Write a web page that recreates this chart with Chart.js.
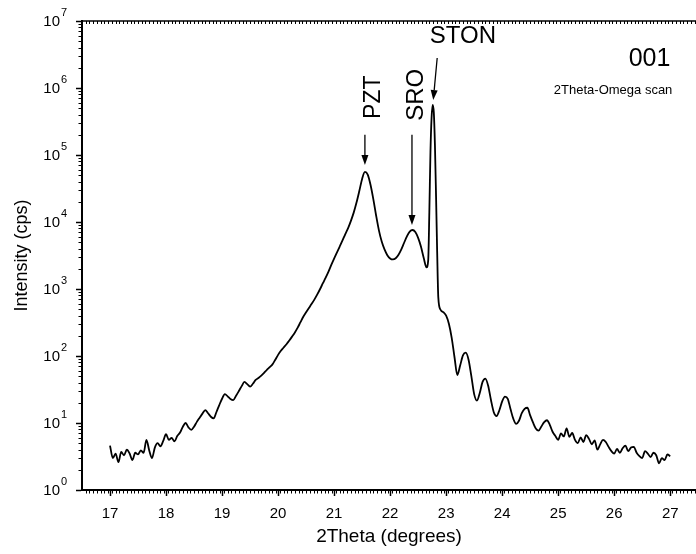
<!DOCTYPE html>
<html>
<head>
<meta charset="utf-8">
<script src="https://cdn.jsdelivr.net/npm/chart.js@4"></script>
<style>
  body { margin: 0; background: #fff; }
  canvas { display: block; }
</style>
</head>
<body>
<canvas id="xrd" width="696" height="554"></canvas>
<script>
// 2Theta-Omega scan, values
const twoTheta = [
  17.00, 17.05, 17.10, 17.15, 17.20, 17.25, 17.30, 17.35, 17.40, 17.45,
  17.50, 17.55, 17.60, 17.65, 17.70, 17.75, 17.80, 17.85, 17.90, 17.95,
  18.00, 18.05, 18.10, 18.15, 18.20, 18.25, 18.30, 18.35, 18.40, 18.45,
  18.50, 18.55, 18.60, 18.65, 18.70, 18.75, 18.80, 18.85, 18.90, 18.95,
  19.00, 19.05, 19.10, 19.15, 19.20, 19.25, 19.30, 19.35, 19.40, 19.45,
  19.50, 19.55, 19.60, 19.65, 19.70, 19.75, 19.80, 19.85, 19.90, 19.95,
  20.00, 20.05, 20.10, 20.15, 20.20, 20.25, 20.30, 20.35, 20.40, 20.45,
  20.50, 20.55, 20.60, 20.65, 20.70, 20.75, 20.80, 20.85, 20.90, 20.95,
  21.00, 21.05, 21.10, 21.15, 21.20, 21.25, 21.30, 21.35, 21.40, 21.45,
  21.50, 21.55, 21.60, 21.65, 21.70, 21.75, 21.80, 21.85, 21.90, 21.95,
  22.00, 22.05, 22.10, 22.15, 22.20, 22.25, 22.30, 22.35, 22.40, 22.45,
  22.50, 22.55, 22.60, 22.65, 22.68, 22.70, 22.72, 22.74, 22.76, 22.78,
  22.80, 22.82, 22.84, 22.86, 22.90, 22.95, 23.00, 23.05, 23.10, 23.15,
  23.20, 23.25, 23.30, 23.35, 23.40, 23.45, 23.50, 23.55, 23.60, 23.65,
  23.70, 23.75, 23.80, 23.85, 23.90, 23.95, 24.00, 24.05, 24.10, 24.15,
  24.20, 24.25, 24.30, 24.35, 24.40, 24.45, 24.50, 24.55, 24.60, 24.65,
  24.70, 24.75, 24.80, 24.85, 24.90, 24.95, 25.00, 25.05, 25.10, 25.15,
  25.20, 25.25, 25.30, 25.35, 25.40, 25.45, 25.50, 25.55, 25.60, 25.65,
  25.70, 25.75, 25.80, 25.85, 25.90, 25.95, 26.00, 26.05, 26.10, 26.15,
  26.20, 26.25, 26.30, 26.35, 26.40, 26.45, 26.50, 26.55, 26.60, 26.65,
  26.70, 26.75, 26.80, 26.85, 26.90, 26.95, 27.00
];
const intensity = [
  4.6, 3.0, 3.5, 2.6, 3.7, 3.3, 4.0, 3.5, 2.8, 3.6,
  3.4, 3.9, 3.6, 5.6, 3.9, 3.0, 4.3, 5.0, 4.5, 5.4,
  6.8, 5.6, 6.0, 5.3, 6.4, 7.2, 8.8, 10.0, 8.6, 7.9,
  8.8, 10.4, 12.0, 13.8, 15.6, 14.0, 12.4, 11.7, 14.6, 18.5,
  23, 27, 25, 22.8, 22, 25.5, 30, 35.5, 41, 38,
  35, 38.5, 44, 47, 51, 56, 62, 68, 75, 88,
  104, 120, 134, 150, 170, 195, 225, 265, 320, 385,
  450, 520, 600, 700, 830, 1000, 1220, 1480, 1820, 2290,
  2850, 3500, 4300, 5300, 6600, 8100, 10400, 13800, 19500, 29000,
  44000, 56000, 51000, 36000, 22000, 12500, 7500, 5100, 3900, 3200,
  2860, 2760, 2880, 3250, 3900, 4900, 6100, 7200, 7600, 7100,
  5800, 4300, 2900, 2100, 2700, 14000, 110000, 360000, 560000, 430000,
  140000, 24000, 3500, 750, 490, 450, 400, 300, 185, 95,
  52, 72, 102, 112, 88, 50, 27, 21.6, 28, 41,
  46, 36, 22, 14.5, 12.7, 15.5, 21, 24.7, 23, 16,
  11.5, 9.7, 10.8, 14, 16.2, 16.9, 13, 10.2, 8.3, 7.7,
  8.9, 10.3, 11, 9.4, 7.4, 6.4, 5.6, 7.0, 6.3, 8.3,
  6.2, 7.1, 5.6, 5.0, 6.1, 5.2, 6.6, 5.8, 4.8, 5.5,
  4.0, 4.8, 5.6, 5.2, 4.4, 3.8, 3.5, 4.1, 3.6, 4.2,
  4.6, 3.8, 4.3, 4.4, 3.6, 3.2, 3.0, 3.8, 3.5, 3.1,
  3.6, 3.3, 2.5, 3.0, 2.8, 3.4, 3.2
];
const xTicks = [17, 18, 19, 20, 21, 22, 23, 24, 25, 26, 27];
const yTickExps = [0, 1, 2, 3, 4, 5, 6, 7];

// peak labels and arrows, in data units
const arrows = [
  { from: [21.55, 2.0e5], to: [21.55, 7.1e4] },
  { from: [22.39, 2.0e5], to: [22.39, 9.0e3] },
  { from: [22.84, 2.8e6], to: [22.77, 6.6e5] }
];
const notes = [
  { text: 'PZT', at: [21.70, 7.3e5], size: 23, rot: true },
  { text: 'SRO', at: [22.46, 7.9e5], size: 24, rot: true },
  { text: 'STON', at: [23.30, 5.8e6], size: 24 },
  { text: '001', at: [26.63, 2.7e6], size: 25 },
  { text: '2Theta-Omega scan', at: [25.98, 9.3e5], size: 13 }
];

const FONT = "'Liberation Sans', Arial, sans-serif";

const decor = {
  id: 'decor',
  afterDraw(chart) {
    const { ctx, chartArea: a, scales: { x, y } } = chart;
    ctx.save();
    ctx.strokeStyle = '#000';
    ctx.fillStyle = '#000';

    // top frame line with small inward ticks
    ctx.lineWidth = 1.5;
    ctx.beginPath();
    ctx.moveTo(a.left, a.top);
    ctx.lineTo(a.right, a.top);
    ctx.stroke();

    // minor ticks on x (bottom outward, top inward)
    ctx.lineWidth = 1;
    ctx.beginPath();
    for (let k = 0; k * (1 / 15) + 16.5 <= x.max; k++) {
      const v = 16.5 + k / 15;
      const px = Math.round(x.getPixelForValue(v)) + 0.5;
      if (px <= a.left + 1) continue;
      ctx.moveTo(px, a.bottom);
      ctx.lineTo(px, a.bottom + 3.5);
      ctx.moveTo(px, a.top);
      ctx.lineTo(px, a.top + 3);
    }
    // minor ticks on y
    for (let e = 0; e < 7; e++) {
      for (let m = 2; m <= 9; m++) {
        const py = Math.round(y.getPixelForValue(m * Math.pow(10, e))) + 0.5;
        ctx.moveTo(a.left, py);
        ctx.lineTo(a.left - 3.5, py);
      }
    }
    ctx.stroke();

    // y tick labels as 10 with superscript exponent
    yTickExps.forEach(e => {
      const py = y.getPixelForValue(Math.pow(10, e));
      ctx.font = '15px ' + FONT;
      ctx.textAlign = 'right';
      ctx.textBaseline = 'middle';
      ctx.fillText('10', a.left - 22, py + 1);
      ctx.font = '11px ' + FONT;
      ctx.textAlign = 'left';
      ctx.textBaseline = 'alphabetic';
      ctx.fillText(String(e), a.left - 21, py - 5);
    });

    // arrows
    ctx.lineWidth = 1.3;
    arrows.forEach(ar => {
      const x1 = x.getPixelForValue(ar.from[0]), y1 = y.getPixelForValue(ar.from[1]);
      const x2 = x.getPixelForValue(ar.to[0]), y2 = y.getPixelForValue(ar.to[1]);
      const ang = Math.atan2(y2 - y1, x2 - x1);
      const hl = 10, hw = 3.5;
      const bx = x2 - hl * Math.cos(ang), by = y2 - hl * Math.sin(ang);
      ctx.beginPath();
      ctx.moveTo(x1, y1);
      ctx.lineTo(bx, by);
      ctx.stroke();
      ctx.beginPath();
      ctx.moveTo(x2, y2);
      ctx.lineTo(bx + hw * Math.sin(ang), by - hw * Math.cos(ang));
      ctx.lineTo(bx - hw * Math.sin(ang), by + hw * Math.cos(ang));
      ctx.closePath();
      ctx.fill();
    });

    // text labels
    notes.forEach(n => {
      const px = x.getPixelForValue(n.at[0]), py = y.getPixelForValue(n.at[1]);
      ctx.save();
      ctx.translate(px, py);
      if (n.rot) ctx.rotate(-Math.PI / 2);
      ctx.font = n.size + 'px ' + FONT;
      ctx.textAlign = 'center';
      ctx.textBaseline = 'middle';
      ctx.fillText(n.text, 0, 0);
      ctx.restore();
    });
    ctx.restore();
  }
};

new Chart(document.getElementById('xrd'), {
  type: 'line',
  data: {
    datasets: [{
      data: twoTheta.map((t, i) => ({ x: t, y: intensity[i] })),
      borderColor: '#000',
      borderWidth: 1.8,
      pointRadius: 0,
      fill: false,
      cubicInterpolationMode: 'monotone'
    }]
  },
  options: {
    responsive: false,
    animation: false,
    layout: { padding: { top: 21, left: 0, right: 0, bottom: 0 } },
    plugins: { legend: { display: false }, tooltip: { enabled: false } },
    scales: {
      x: {
        type: 'linear',
        min: 16.5,
        max: 27.46,
        afterBuildTicks: s => { s.ticks = xTicks.map(v => ({ value: v })); },
        afterFit: s => { s.height = 64; },
        grid: { drawOnChartArea: false, tickLength: 6, tickWidth: 1.5, tickColor: '#000' },
        border: { color: '#000', width: 2 },
        ticks: {
          color: '#000', padding: 9, maxRotation: 0, autoSkip: false,
          font: { family: FONT, size: 15 }
        },
        title: {
          display: true, text: '2Theta (degrees)', color: '#000',
          font: { family: FONT, size: 19 }, padding: { top: 0, bottom: 6 }
        }
      },
      y: {
        type: 'logarithmic',
        min: 1,
        max: 1e7,
        afterBuildTicks: s => { s.ticks = yTickExps.map(e => ({ value: Math.pow(10, e) })); },
        afterFit: s => { s.width = 82; },
        grid: { drawOnChartArea: false, tickLength: 6, tickWidth: 1.5, tickColor: '#000' },
        border: { color: '#000', width: 2 },
        ticks: { display: false },
        title: {
          display: true, text: 'Intensity (cps)', color: '#000',
          font: { family: FONT, size: 18 }, padding: { top: 11, bottom: 0 }
        }
      }
    }
  },
  plugins: [decor]
});
</script>
</body>
</html>
